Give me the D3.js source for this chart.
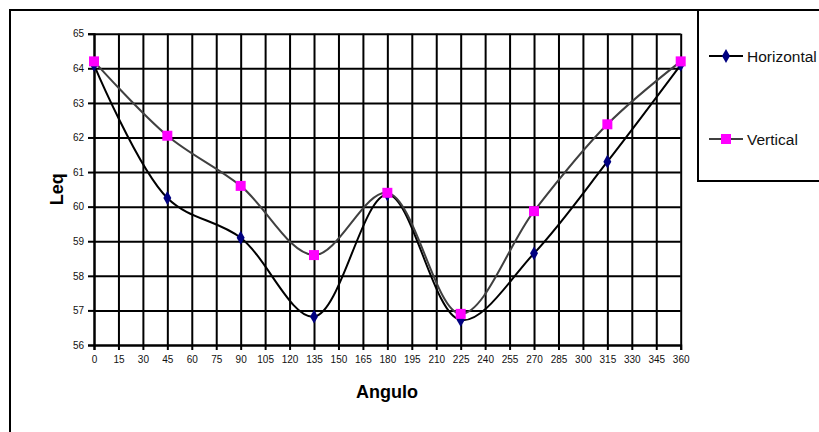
<!DOCTYPE html>
<html>
<head>
<meta charset="utf-8">
<script src="https://cdn.jsdelivr.net/npm/d3@7"></script>
<style>
  html, body { margin: 0; padding: 0; background: #fff; }
  svg { display: block; font-family: "Liberation Sans", Arial, sans-serif; }
</style>
</head>
<body>
<svg id="chart" width="819" height="432"></svg>
<script>
// Sound level (Leq) by measurement angle, two microphone orientations
const angles = [0, 45, 90, 135, 180, 225, 270, 315, 360];
const horizontal = [64.1, 60.25, 59.1, 56.82, 60.35, 56.72, 58.65, 61.3, 64.1];
const vertical = [64.2, 62.05, 60.6, 58.6, 60.4, 56.9, 59.87, 62.38, 64.2];
const xTicks = d3.range(0, 361, 15);
const yTicks = d3.range(56, 66, 1);
const seriesNames = ["Horizontal", "Vertical"];

const svg = d3.select("#chart");

// outer chart frame
svg.append("rect").attr("x", 10).attr("y", 10).attr("width", 830).attr("height", 450)
  .attr("fill", "#fff").attr("stroke", "#000").attr("stroke-width", 2);

const x = d3.scaleLinear().domain([0, 360]).range([94, 680.7]);
const y = d3.scaleLinear().domain([56, 65]).range([345, 33.7]);
const plotW = x.range()[1] - x.range()[0];
const plotH = y.range()[0] - y.range()[1];

// gridlines
const gridY = svg.append("g").attr("transform", `translate(${x(0)},0)`)
  .call(d3.axisRight(y).tickValues(yTicks).tickSize(plotW).tickFormat(""));
const gridX = svg.append("g").attr("transform", `translate(0,${y(65)})`)
  .call(d3.axisBottom(x).tickValues(xTicks).tickSize(plotH).tickFormat(""));
[gridY, gridX].forEach(g => {
  g.select(".domain").remove();
  g.selectAll("line").attr("stroke", "#000").attr("stroke-width", 2);
});

// axes with outward ticks
const yAxis = svg.append("g").attr("transform", `translate(${x(0)},0)`)
  .call(d3.axisLeft(y).tickValues(yTicks).tickSize(6).tickPadding(4).tickFormat(d3.format("d")));
const xAxis = svg.append("g").attr("transform", `translate(0,${y(56)})`)
  .call(d3.axisBottom(x).tickValues(xTicks).tickSize(5).tickPadding(6).tickFormat(d3.format("d")));
[yAxis, xAxis].forEach(g => {
  g.select(".domain").attr("stroke", "#000").attr("stroke-width", 2);
  g.selectAll("line").attr("stroke", "#000").attr("stroke-width", 2);
  g.selectAll("text").attr("font-size", 10).attr("fill", "#111")
    .attr("font-family", "'Liberation Sans', Arial, sans-serif");
});

// axis titles
svg.append("text").attr("x", 387).attr("y", 398).attr("text-anchor", "middle")
  .attr("font-size", 18).attr("font-weight", "bold").text("Angulo");
svg.append("text").attr("transform", `translate(63,${(y(65) + y(56)) / 2}) rotate(-90)`)
  .attr("text-anchor", "middle").attr("font-size", 18).attr("font-weight", "bold").text("Leq");

// smoothed series lines
const line = d3.line().x(d => x(d[0])).y(d => y(d[1])).curve(d3.curveCatmullRom.alpha(0.5));
const hData = angles.map((a, i) => [a, horizontal[i]]);
const vData = angles.map((a, i) => [a, vertical[i]]);

const diamond = d3.symbol().type(d3.symbolDiamond).size(55);
const square = d3.symbol().type(d3.symbolSquare).size(100);

svg.append("path").datum(hData).attr("d", line)
  .attr("fill", "none").attr("stroke", "#000").attr("stroke-width", 2);
svg.append("g").selectAll("path").data(hData).join("path")
  .attr("d", diamond).attr("transform", d => `translate(${x(d[0])},${y(d[1])})`)
  .attr("fill", "#000080");

svg.append("path").datum(vData).attr("d", line)
  .attr("fill", "none").attr("stroke", "#404040").attr("stroke-width", 2);
svg.append("g").selectAll("path").data(vData).join("path")
  .attr("d", square).attr("transform", d => `translate(${x(d[0])},${y(d[1])})`)
  .attr("fill", "#ff00ff");

// legend
svg.append("rect").attr("x", 698).attr("y", 10).attr("width", 140).attr("height", 171)
  .attr("fill", "#fff").attr("stroke", "#000").attr("stroke-width", 2);
const legendRows = [
  { name: seriesNames[0], cy: 56, color: "#000", sym: diamond, fill: "#000080" },
  { name: seriesNames[1], cy: 139, color: "#404040", sym: square, fill: "#ff00ff" }
];
const lg = svg.append("g").selectAll("g").data(legendRows).join("g")
  .attr("transform", d => `translate(0,${d.cy})`);
lg.append("line").attr("x1", 709).attr("x2", 743).attr("y1", 0).attr("y2", 0)
  .attr("stroke", d => d.color).attr("stroke-width", 2);
lg.append("path").attr("d", d => d.sym()).attr("transform", "translate(726,0)")
  .attr("fill", d => d.fill);
lg.append("text").attr("x", 747).attr("y", 5.5).attr("font-size", 15.5)
  .attr("fill", "#111").text(d => d.name);
</script>
</body>
</html>
